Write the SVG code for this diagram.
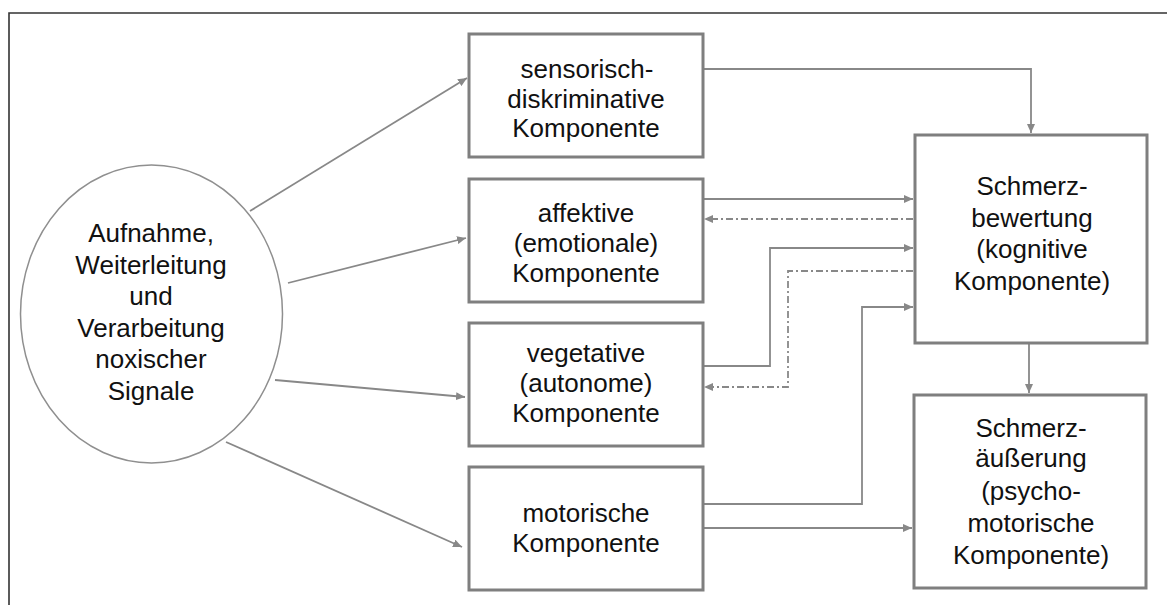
<svg xmlns="http://www.w3.org/2000/svg" width="1167" height="605" viewBox="0 0 1167 605">
<defs>
<style>
.box{fill:#fff;stroke:#7f7f7f;stroke-width:3}
.ell{fill:#fff;stroke:#8f8f8f;stroke-width:1.5}
.t{font-family:"Liberation Sans",Arial,sans-serif;font-size:26px;fill:#111;text-anchor:middle}
.c{fill:none;stroke:#888;stroke-width:1.8}
.dd{stroke-dasharray:7 3 2 3}
</style>
<marker id="ah" markerUnits="userSpaceOnUse" markerWidth="9" markerHeight="8" refX="9" refY="4" orient="auto">
<path d="M0,0 L9,4 L0,8 Z" fill="#888"/>
</marker>
</defs>
<rect width="1167" height="605" fill="#fff"/>
<path d="M9,605 V13 H1167" fill="none" stroke="#333" stroke-width="1.6"/>

<g id="connectors">
<line class="c" x1="250" y1="211" x2="467" y2="78" marker-end="url(#ah)"/>
<line class="c" x1="288" y1="283" x2="466" y2="238" marker-end="url(#ah)"/>
<line class="c" x1="275" y1="380" x2="465" y2="397" marker-end="url(#ah)"/>
<line class="c" x1="226" y1="442" x2="462" y2="547" marker-end="url(#ah)"/>
<polyline class="c" points="703,69 1031,69 1031,133" marker-end="url(#ah)"/>
<polyline class="c" points="703,199 913,199" marker-end="url(#ah)"/>
<polyline class="c dd" points="913,219 704,219" marker-end="url(#ah)"/>
<polyline class="c" points="703,366 770,366 770,248 913,248" marker-end="url(#ah)"/>
<polyline class="c dd" points="913,271 788,271 788,387 704,387" marker-end="url(#ah)"/>
<polyline class="c" points="703,504 862,504 862,307 913,307" marker-end="url(#ah)"/>
<polyline class="c" points="703,528 912,528" marker-end="url(#ah)"/>
<polyline class="c" points="1029,343 1029,393" marker-end="url(#ah)"/>
</g>

<g id="n-aufnahme">
<ellipse class="ell" cx="151.5" cy="314" rx="131" ry="149"/>
<text class="t" x="151"><tspan x="151" y="242">Aufnahme,</tspan><tspan x="151" y="273.5">Weiterleitung</tspan><tspan x="151" y="305">und</tspan><tspan x="151" y="336.5">Verarbeitung</tspan><tspan x="151" y="368">noxischer</tspan><tspan x="151" y="399.5">Signale</tspan></text>
</g>

<g id="n-sensorisch">
<rect class="box" x="469" y="34" width="234" height="123"/>
<text class="t"><tspan x="587" y="78">sensorisch-</tspan><tspan x="586" y="107.5">diskriminative</tspan><tspan x="586" y="137">Komponente</tspan></text>
</g>

<g id="n-affektiv">
<rect class="box" x="469" y="179" width="234" height="123"/>
<text class="t"><tspan x="586" y="221.5">affektive</tspan><tspan x="586" y="251.5">(emotionale)</tspan><tspan x="586" y="281.5">Komponente</tspan></text>
</g>

<g id="n-vegetativ">
<rect class="box" x="469" y="323" width="234" height="123"/>
<text class="t"><tspan x="586" y="362">vegetative</tspan><tspan x="586" y="392">(autonome)</tspan><tspan x="586" y="422">Komponente</tspan></text>
</g>

<g id="n-motorisch">
<rect class="box" x="469" y="467" width="234" height="123"/>
<text class="t"><tspan x="586" y="521.5">motorische</tspan><tspan x="586" y="551.5">Komponente</tspan></text>
</g>

<g id="n-bewertung">
<rect class="box" x="915" y="135" width="232" height="208"/>
<text class="t"><tspan x="1032" y="195">Schmerz-</tspan><tspan x="1032" y="226.5">bewertung</tspan><tspan x="1032" y="258">(kognitive</tspan><tspan x="1032" y="290">Komponente)</tspan></text>
</g>

<g id="n-aeusserung">
<rect class="box" x="914" y="395" width="232" height="193"/>
<text class="t"><tspan x="1031" y="436.5">Schmerz-</tspan><tspan x="1031" y="467">äußerung</tspan><tspan x="1031" y="499.5">(psycho-</tspan><tspan x="1031" y="531.5">motorische</tspan><tspan x="1031" y="564">Komponente)</tspan></text>
</g>
</svg>
